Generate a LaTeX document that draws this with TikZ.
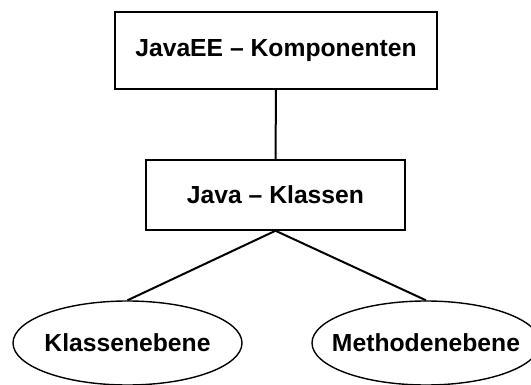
\documentclass[tikz,border=0pt]{standalone}
\usepackage{fontspec}
\setmainfont{Liberation Sans}
\usetikzlibrary{shapes.geometric}
\begin{document}
\begin{tikzpicture}[x=1pt,y=-1pt,
  label text/.style={font=\fontsize{24.7}{28}\selectfont\bfseries, inner sep=0pt},
  levelbox/.style={label text, draw, line width=1.5pt, rectangle},
  leafnode/.style={label text, draw, line width=1.4pt, ellipse},
  link/.style={line width=2pt}]
  \useasboundingbox (0,0) rectangle (531,385);
  \clip (0,0) rectangle (531,385);
  \fill[white] (0,0) rectangle (531,385);

  \node[levelbox, minimum width=322pt, minimum height=77pt] (ee) at (276,50.5) {JavaEE -- Komponenten};
  \node[levelbox, minimum width=259pt, minimum height=70pt] (cls) at (275.5,195) {Java -- Klassen};
  % zero-width label boxes so the ellipse size comes from the minimum sizes only
  \node[leafnode, minimum width=229pt, minimum height=84pt] (klasse) at (127.5,343) {\makebox[0pt]{Klassenebene}};
  \node[leafnode, minimum width=228pt, minimum height=84pt] (methode) at (426,343) {\makebox[0pt]{Methodenebene}};

  \draw[link] (ee.south) -- (cls.north);
  \draw[link] (cls.south) -- (klasse.north);
  \draw[link] (cls.south) -- (methode.north);
\end{tikzpicture}
\end{document}
